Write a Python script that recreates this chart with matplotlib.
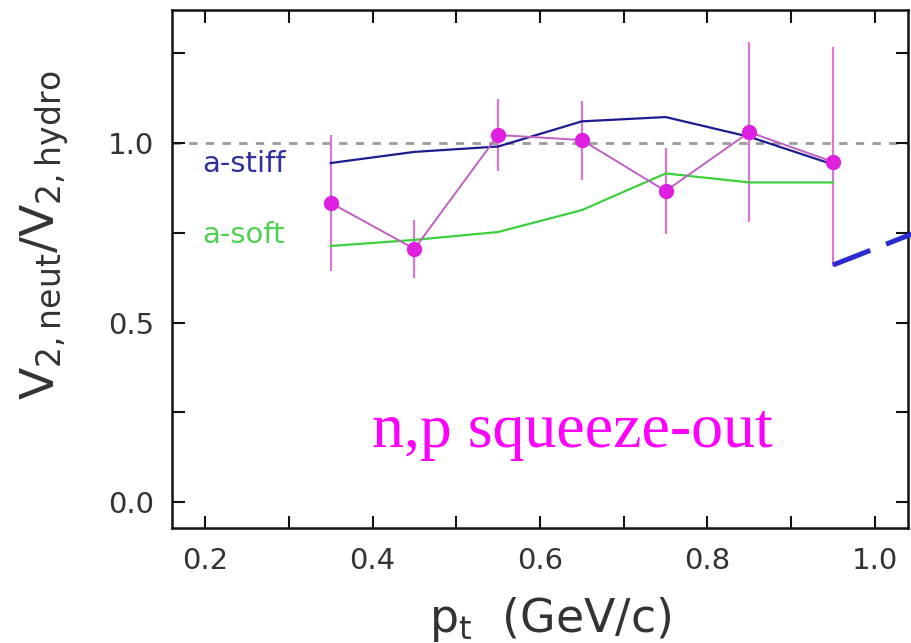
import numpy as np
import matplotlib
matplotlib.use('Agg')
import matplotlib.pyplot as plt
from matplotlib.lines import Line2D

# data
pt = [0.35, 0.45, 0.55, 0.65, 0.75, 0.85, 0.95]
ratio = [0.833, 0.705, 1.022, 1.008, 0.866, 1.030, 0.947]
err_lo = [0.19, 0.08, 0.10, 0.11, 0.12, 0.25, 0.29]
err_hi = [0.19, 0.08, 0.10, 0.11, 0.12, 0.25, 0.32]

stiff = [0.944, 0.975, 0.990, 1.060, 1.072, 1.017, 0.940]
soft = [0.713, 0.730, 0.752, 0.813, 0.915, 0.890, 0.890]

xticks = [0.2, 0.4, 0.6, 0.8, 1.0]
yticks = [0.0, 0.5, 1.0]

plt.rcParams['mathtext.fontset'] = 'dejavusans'
txt = '#333333'

fig = plt.figure(figsize=(9.12, 6.43), dpi=100)
ax = fig.add_axes([172 / 912, 1 - 528 / 643, 736 / 912, 518 / 643])

ax.axhline(1.0, color='#9a9a9a', lw=2.0, dashes=(3, 3), zorder=1)

ax.plot(pt, stiff, color='#1c1c90', lw=1.6, zorder=3)
ax.plot(pt, soft, color='#3cd03c', lw=1.6, zorder=3)

ax.errorbar(pt, ratio, yerr=[err_lo, err_hi], fmt='none',
            ecolor='#d47ad4', elinewidth=1.6, zorder=2)
ax.plot(pt, ratio, color='#c060c0', lw=1.4, zorder=4)
ax.plot(pt, ratio, 'o', color='#e020e0', ms=10, mec='#e020e0', zorder=5)

ax.text(0.197, 0.94, 'a-stiff', color='#3030a0', fontsize=21, va='center')
ax.text(0.197, 0.745, 'a-soft', color='#50d050', fontsize=21, va='center')

ax.set_xlim(0.1605, 1.0395)
ax.set_ylim(-0.072, 1.37)
ax.set_xticks(xticks)
ax.set_xticks(np.arange(0.3, 1.0, 0.2), minor=True)
ax.set_xticklabels([f'{v:.1f}' for v in xticks])
ax.set_yticks(yticks)
ax.set_yticks([0.25, 0.75, 1.25], minor=True)
ax.set_yticklabels([f'{v:.1f}' for v in yticks])
ax.tick_params(which='both', direction='in', length=9, width=1.5,
               top=True, right=True, colors='#111111')
ax.tick_params(axis='x', which='both', pad=14, labelsize=21, labelcolor=txt)
ax.tick_params(axis='y', which='both', pad=13, labelsize=21, labelcolor=txt)
for s in ax.spines.values():
    s.set_linewidth(1.8)
    s.set_color('#111111')

fig.text(45 / 912, 1 - 235 / 643, r'V$_{2,\rm neut}$/V$_{2,\rm hydro}$',
         rotation=90, fontsize=34, color=txt, ha='center', va='center')
fig.text(550 / 912, 1 - 632 / 643, r'p$_{\rm t}$  (GeV/c)',
         fontsize=33, color=txt, ha='center', va='baseline')

fig.text(372 / 912, 1 - 447 / 643, 'n,p squeeze-out', color='#ff00ff',
         fontsize=46, family='Liberation Serif', va='baseline')

# overlay dashed pointer line running off the right edge
fig.add_artist(Line2D([833 / 912, 1.0], [1 - 265 / 643, 1 - 234 / 643],
                      transform=fig.transFigure, color='#2b2bd0', lw=3.6,
                      dashes=(8, 3.4), solid_capstyle='butt'))

fig.savefig('out.png', dpi=100)
